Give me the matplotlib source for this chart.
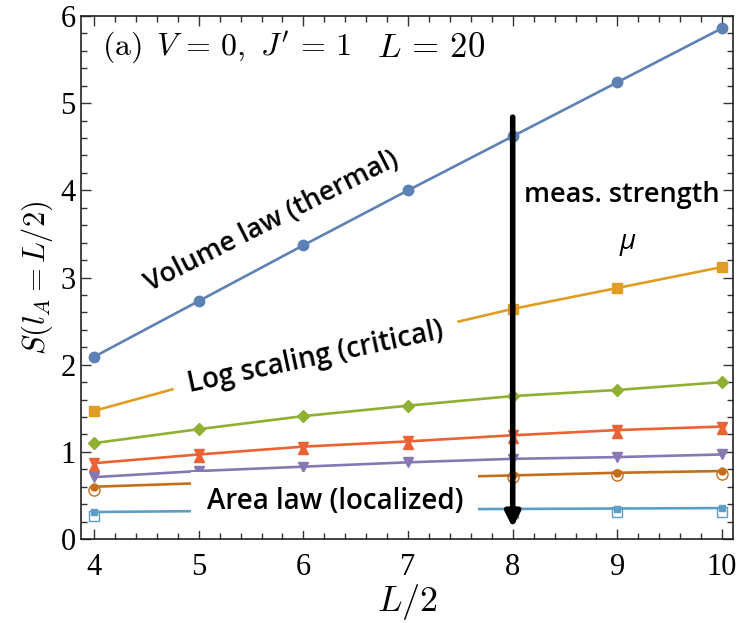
import matplotlib
matplotlib.use("Agg")
import matplotlib.pyplot as plt
from matplotlib.ticker import MultipleLocator

plt.rcParams["mathtext.fontset"] = "cm"

# half system size L/2
half_L = [4, 5, 6, 7, 8, 9, 10]

# half-chain entanglement entropy for increasing measurement strength
s_thermal = [2.09, 2.73, 3.37, 4.00, 4.62, 5.24, 5.86]
s_critical = [1.47, 1.80, 2.08, 2.36, 2.64, 2.88, 3.12]
s_mu3 = [1.10, 1.26, 1.41, 1.53, 1.64, 1.71, 1.80]
s_mu4_up = [0.84, 0.94, 1.03, 1.09, 1.16, 1.22, 1.26]
s_mu4_dn = [0.87, 0.97, 1.06, 1.12, 1.19, 1.25, 1.29]
s_mu5 = [0.71, 0.78, 0.83, 0.88, 0.92, 0.94, 0.97]
s_mu6 = [0.60, 0.64, 0.67, 0.70, 0.73, 0.76, 0.78]
s_mu6_open = [0.56, 0.61, 0.65, 0.68, 0.71, 0.73, 0.75]
s_mu7 = [0.31, 0.32, 0.33, 0.34, 0.345, 0.35, 0.355]
s_mu7_open = [0.26, 0.28, 0.29, 0.30, 0.30, 0.31, 0.31]

c_blue = "#5E81B5"
c_orange = "#E19C24"
c_green = "#8FB032"
c_red = "#EB6235"
c_purple = "#8778B3"
c_brown = "#C56E1A"
c_lblue = "#5D9EC7"

fig = plt.figure(figsize=(7.37, 6.23), dpi=100)
ax = fig.add_axes([0.110, 0.1348, 0.8846, 0.8395])

lw = 1.9
ax.plot(half_L, s_thermal, color=c_blue, lw=lw, marker="o", ms=7.5, zorder=3)
ax.plot(half_L, s_critical, color=c_orange, lw=lw, marker="s", ms=7.5, zorder=3)
ax.plot(half_L, s_mu3, color=c_green, lw=lw, marker="D", ms=6.5, zorder=3)
ax.plot(half_L, s_mu4_up, color=c_red, lw=0, marker="^", ms=7, zorder=3)
ax.plot(half_L, s_mu4_dn, color=c_red, lw=lw, marker="v", ms=7, zorder=3)
ax.plot(half_L, s_mu5, color=c_purple, lw=lw, marker="v", ms=7.5, zorder=3)
ax.plot(half_L, s_mu6, color=c_brown, lw=lw, marker="o", ms=5, zorder=3)
ax.plot(half_L, s_mu6_open, color=c_brown, lw=0, marker="o", ms=8,
        mfc="none", mew=1.0, zorder=3)
ax.plot(half_L, s_mu7, color=c_lblue, lw=lw, marker="s", ms=5, zorder=3)
ax.plot(half_L, s_mu7_open, color=c_lblue, lw=0, marker="s", ms=7.5,
        mfc="none", mew=1.0, zorder=3)

ax.set_xlim(3.876, 10.105)
ax.set_ylim(0, 6)
ax.xaxis.set_major_locator(MultipleLocator(1))
ax.xaxis.set_minor_locator(MultipleLocator(0.2))
ax.yaxis.set_major_locator(MultipleLocator(1))
ax.yaxis.set_minor_locator(MultipleLocator(0.2))
ax.tick_params(which="both", direction="in", top=True, right=True,
               width=1.0, color="#333333")
ax.tick_params(which="major", length=7, labelsize=22)
ax.tick_params(axis="x", which="major", pad=10)
ax.tick_params(axis="y", which="major", pad=4)
ax.tick_params(which="minor", length=4)
for lab in ax.get_xticklabels() + ax.get_yticklabels():
    lab.set_family("Liberation Serif")
for sp in ax.spines.values():
    sp.set_linewidth(1.2)
    sp.set_color("#222222")

ax.set_xlabel(r"$L/2$", fontsize=26, labelpad=0)
ax.set_ylabel(r"$S(l_A=L/2)$", fontsize=22, labelpad=4)

ax.text(4.08, 5.64, r"$\mathrm{(a)}\ \,V\,=\,0,\ J'\,=\,1$", fontsize=23,
        va="center")
ax.text(7.22, 5.64, r"$L\,=\,20$", fontsize=25, va="center", ha="center")

sans = "Open Sans"
wt = "semibold"
ax.text(5.70, 3.64, "Volume law (thermal)", fontsize=19.5, family=sans,
        weight=wt, rotation=27, ha="center", va="center",
        rotation_mode="anchor", zorder=5)
ax.text(6.12, 2.08, "Log scaling (critical)", fontsize=20, family=sans,
        weight=wt, rotation=12, ha="center", va="center",
        rotation_mode="anchor",
        bbox=dict(boxstyle="square,pad=0.55", fc="white", ec="none"), zorder=5)
ax.text(6.30, 0.43, "Area law (localized)", fontsize=20, family=sans,
        weight=wt, ha="center", va="center",
        bbox=dict(boxstyle="square,pad=0.55", fc="white", ec="none"), zorder=5)
ax.text(9.04, 3.95, "meas. strength", fontsize=19.5, family=sans, weight=wt,
        ha="center", va="center", zorder=5)
ax.text(9.10, 3.41, "μ", fontsize=20, family=sans, style="italic",
        ha="center", va="center", zorder=5)

ax.annotate("", xy=(8, 0.13), xytext=(8, 4.84),
            arrowprops=dict(arrowstyle="-|>", color="black", lw=4,
                            mutation_scale=22, shrinkA=0, shrinkB=0),
            zorder=6)

fig.savefig("out.png", dpi=100)
